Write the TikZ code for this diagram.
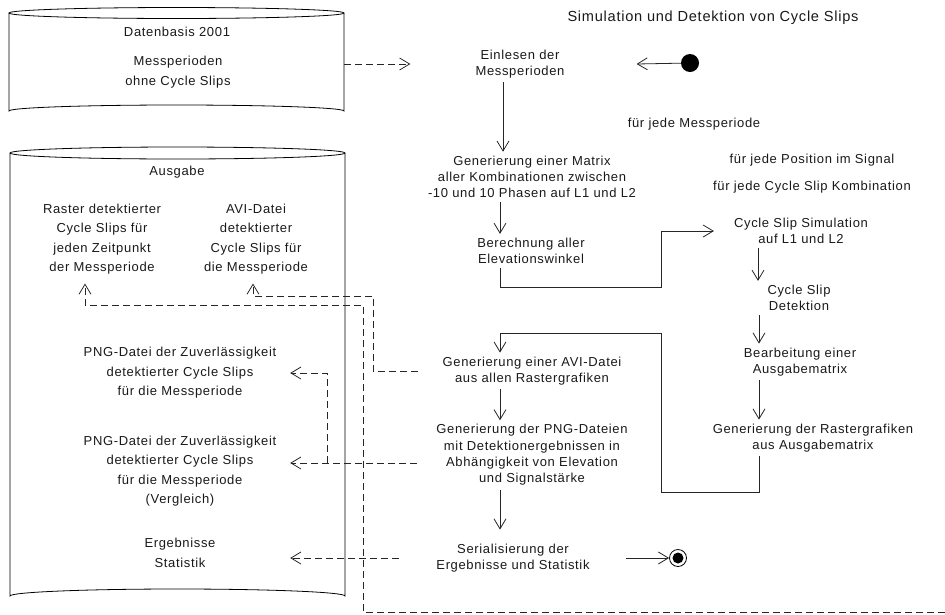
\documentclass[tikz,border=0pt]{standalone}
\usepackage{fontspec}
\setmainfont{Liberation Sans}[LetterSpace=5]
\usetikzlibrary{arrows.meta}
\begin{document}
\begin{tikzpicture}[x=1pt,y=-1pt,
  txt/.style={align=center, font=\fontsize{13}{16.3}\selectfont, inner sep=4pt, text=black!90},
  txtw/.style={align=center, font=\fontsize{13}{19.5}\selectfont, inner sep=4pt, text=black!90},
  outn/.style={txtw, text width=196pt, inner xsep=12pt},
  arr/.style={draw=black!85, line width=0.8pt, -{Straight Barb[length=10pt,width=12pt,line width=0.8pt]}},
  darr/.style={arr, dash pattern=on 7pt off 4pt},
  cyl/.style={draw=black, line width=0.8pt}]
\useasboundingbox (0,0) rectangle (945,614);

% cylinders
\node[minimum width=335pt, minimum height=98pt, inner sep=0] (db) at (176.5,62) {};
\draw[cyl] (9,13) -- (9,111) arc[start angle=180,end angle=360,x radius=167.5,y radius=6] -- (344,13);
\draw[cyl] (176.5,13) ellipse[x radius=167.5,y radius=5.5];
\node[minimum width=335pt, minimum height=443pt, inner sep=0] (out) at (177.5,374.5) {};
\draw[cyl] (10,153) -- (10,596) arc[start angle=180,end angle=360,x radius=167.5,y radius=7] -- (345,153);
\draw[cyl] (177.5,153) ellipse[x radius=167.5,y radius=6];

% left texts
\node[txt] (dbt) at (177,32) {Datenbasis 2001};
\node[txtw] (dbm) at (178,72) {Messperioden\\ohne Cycle Slips};
\node[txt] (outt) at (177,172) {Ausgabe};
\node[txtw, inner ysep=9pt] (oras) at (102,239) {Raster detektierter\\Cycle Slips für\\jeden Zeitpunkt\\der Messperiode};
\node[txtw, inner ysep=9pt] (oavi) at (256,239) {AVI-Datei\\detektierter\\Cycle Slips für\\die Messperiode};
\node[outn] (opng1) at (180,373) {PNG-Datei der Zuverlässigkeit\\detektierter Cycle Slips\\für die Messperiode};
\node[outn] (opng2) at (180,471) {PNG-Datei der Zuverlässigkeit\\detektierter Cycle Slips\\für die Messperiode\\(Vergleich)};
\node[outn] (oerg) at (180,553) {Ergebnisse\\Statistik};

% right texts
\node[txt, font=\fontsize{14.6}{17}\selectfont] (title) at (713,18) {Simulation und Detektion von Cycle Slips};
\node[txt] (ein) at (520,64) {Einlesen der\\Messperioden};
\node[circle, fill=black, minimum size=18pt, inner sep=0] (start) at (690,63) {};
\node[txt] (fjm) at (694,124) {für jede Messperiode};
\node[txt] (mat) at (532,177) {Generierung einer Matrix\\aller Kombinationen zwischen\\-10 und 10 Phasen auf L1 und L2};
\node[txt] (ber) at (531,251) {Berechnung aller\\Elevationswinkel};
\node[txt] (fjp) at (812,160) {für jede Position im Signal};
\node[txt] (fjc) at (812,187) {für jede Cycle Slip Kombination};
\node[txt] (css) at (801,231) {Cycle Slip Simulation\\auf L1 und L2};
\node[txt] (csd) at (799,298) {Cycle Slip\\Detektion};
\node[txt] (bea) at (800,362) {Bearbeitung einer\\Ausgabematrix};
\node[txt] (rgen) at (813,438) {Generierung der Rastergrafiken\\aus Ausgabematrix};
\node[txt] (agen) at (532,371) {Generierung einer AVI-Datei\\aus allen Rastergrafiken};
\node[txt] (pgen) at (532,455) {Generierung der PNG-Dateien\\mit Detektionergebnissen in\\Abhängigkeit von Elevation\\und Signalstärke};
\node[txt] (ser) at (513,558) {Serialisierung der\\Ergebnisse und Statistik};
\node[circle, draw=black, line width=0.8pt, minimum size=17pt, inner sep=0] (end) at (678,558) {};
\fill[black] (end.center) circle (5.5pt);

% control flow
\draw[darr] (db.east |- ein.center) -- ([xshift=-61]ein.west);
\draw[arr] (start) -- ([xshift=68]ein.east);
\draw[arr] (ein.south -| 503,0) -- (mat.north -| 503,0);
\draw[arr] (mat.south -| 500,0) -- (ber.north -| 500,0);
\draw[arr] (ber.south -| 500,0) |- (661,287) |- ([xshift=-16]css.west);
\draw[arr] (css.south -| 758,0) -- (csd.north -| 758,0);
\draw[arr] (csd.south -| 759,0) -- (bea.north -| 759,0);
\draw[arr] (bea.south -| 759,0) -- (rgen.north -| 759,0);
\draw[arr] (rgen.south -| 759,0) |- (661,492) |- (500,333) -- (agen.north -| 500,0);
\draw[arr] (agen.south -| 500,0) -- (pgen.north -| 500,0);
\draw[arr] (pgen.south -| 500,0) -- ([yshift=10]ser.north -| 500,0);
\draw[arr] ([xshift=32]ser.east) -- (end);

% data flow
\coordinate (rexit) at (945,612);
\coordinate (br) at (327,463);
\draw[darr] ([xshift=-20]agen.west) -| (373,296) -| (oavi.south -| 253,0);
\draw[darr] (rexit) -| (363,305) -| (oras.south -| 85,0);
\draw[darr] ([xshift=-15,yshift=-8]pgen.west) -- (opng2.east |- br);
\draw[darr] (br) |- (opng1.east);
\draw[darr] ([xshift=-33]ser.west) -- (oerg.east |- ser.west);
\end{tikzpicture}
\end{document}
